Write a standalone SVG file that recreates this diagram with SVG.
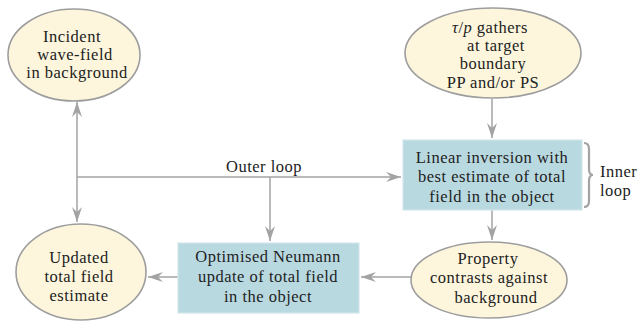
<svg xmlns="http://www.w3.org/2000/svg" width="642" height="322" viewBox="0 0 642 322">
<style>
.ell{fill:#fdf6dd;stroke:#9d9d9d;stroke-width:1.6}
.box{fill:#b9d9e1;stroke:#d2e6eb;stroke-width:1.2}
.t{font-family:Liberation Serif, Times New Roman, DejaVu Serif, serif;font-size:16.5px;fill:#222;text-anchor:middle;letter-spacing:0.5px}
.s{text-anchor:start}
.c{fill:none;stroke:#a3a3a3;stroke-width:1.5}
</style>
<defs>
<marker id="ah" markerUnits="userSpaceOnUse" markerWidth="16" markerHeight="12" refX="15" refY="5" orient="auto-start-reverse" viewBox="0 0 16 10">
<path d="M0,0 L15,5 L0,10 L5,5 z" fill="#a3a3a3"/>
</marker>
</defs>
<g id="connectors">
<line class="c" x1="77" y1="102" x2="77" y2="222" marker-start="url(#ah)" marker-end="url(#ah)"/>
<line class="c" x1="77" y1="177" x2="401" y2="177" marker-end="url(#ah)"/>
<line class="c" x1="270" y1="177" x2="270" y2="241" marker-end="url(#ah)"/>
<line class="c" x1="492" y1="99" x2="492" y2="138" marker-end="url(#ah)"/>
<line class="c" x1="492" y1="210" x2="492" y2="240" marker-end="url(#ah)"/>
<line class="c" x1="411" y1="277" x2="361" y2="277" marker-end="url(#ah)"/>
<line class="c" x1="178" y1="277" x2="148" y2="277" marker-end="url(#ah)"/>
<text class="t" x="264" y="172">Outer loop</text>
</g>
<g id="incident">
<ellipse class="ell" cx="74" cy="55" rx="66" ry="46"/>
<text class="t" x="72" y="42">Incident</text>
<text class="t" x="75" y="60">wave-field</text>
<text class="t" x="77" y="78">in background</text>
</g>
<g id="gathers">
<ellipse class="ell" cx="493" cy="53" rx="88" ry="45"/>
<text class="t" x="490" y="33"><tspan font-style="italic">τ</tspan>/<tspan font-style="italic">p</tspan> gathers</text>
<text class="t" x="496" y="51">at target</text>
<text class="t" x="493" y="69">boundary</text>
<text class="t" x="493" y="88">PP and/or PS</text>
</g>
<g id="linear">
<rect class="box" x="403" y="140" width="179" height="70"/>
<text class="t" x="492" y="163">Linear inversion with</text>
<text class="t" x="492" y="182">best estimate of total</text>
<text class="t" x="492" y="202">field in the object</text>
</g>
<g id="inner">
<path d="M584,143 Q589,143 589,149 L589,169 Q589,175 593,175 Q589,175 589,181 L589,201 Q589,207 584,207" fill="none" stroke="#a3a3a3" stroke-width="2.2"/>
<text class="t s" x="600" y="177">Inner</text>
<text class="t s" x="600" y="196">loop</text>
</g>
<g id="updated">
<ellipse class="ell" cx="81" cy="272" rx="65" ry="48"/>
<text class="t" x="79" y="263">Updated</text>
<text class="t" x="79" y="282">total field</text>
<text class="t" x="79" y="301">estimate</text>
</g>
<g id="optimised">
<rect class="box" x="178" y="243" width="181" height="70"/>
<text class="t" x="268" y="262">Optimised Neumann</text>
<text class="t" x="268" y="282">update of total field</text>
<text class="t" x="268" y="302">in the object</text>
</g>
<g id="property">
<ellipse class="ell" cx="489" cy="280" rx="78" ry="38"/>
<text class="t" x="488" y="264">Property</text>
<text class="t" x="489" y="283">contrasts against</text>
<text class="t" x="496" y="303">background</text>
</g>
</svg>
